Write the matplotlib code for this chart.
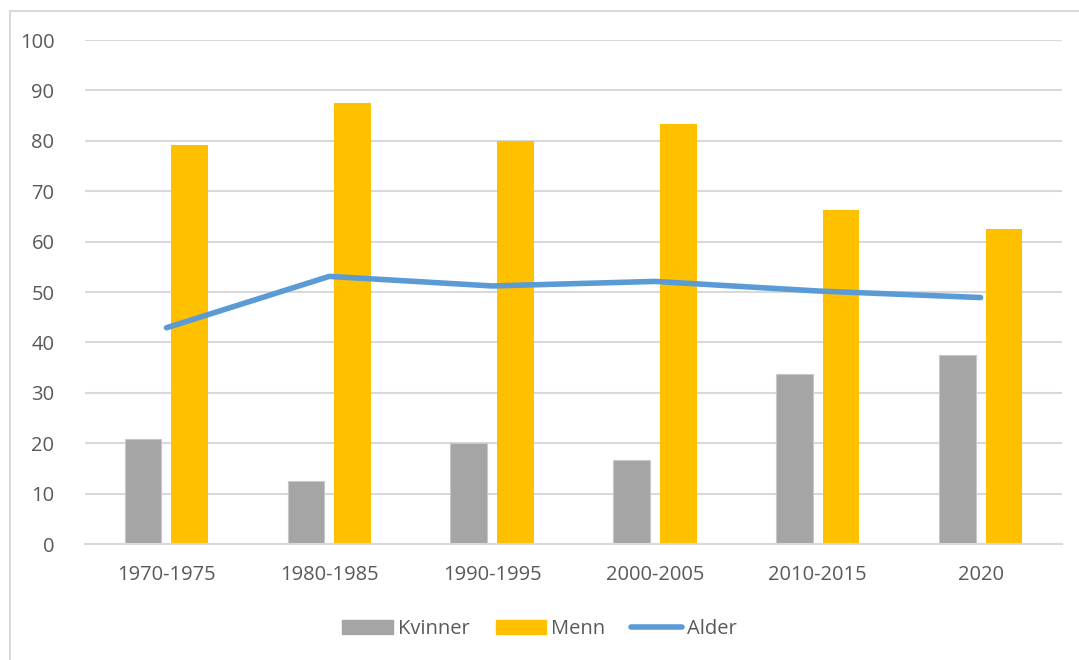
import matplotlib
matplotlib.use("Agg")
import matplotlib.pyplot as plt
import numpy as np
from matplotlib.lines import Line2D

categories = ["1970-1975", "1980-1985", "1990-1995", "2000-2005", "2010-2015", "2020"]
kvinner = [20.8, 12.5, 20.0, 16.7, 33.8, 37.5]
menn = [79.2, 87.5, 80.0, 83.3, 66.2, 62.5]
alder = [42.9, 53.1, 51.2, 52.1, 50.2, 48.9]

plt.rcParams['font.family'] = ['Open Sans', 'DejaVu Sans']
txt = '#595959'
fig = plt.figure(figsize=(10.79, 6.6), dpi=100)
ax = fig.add_axes([85/1079, 1-544/660, (1062-85)/1079, (544-40)/660])

x = np.arange(len(categories))
bw = 0.225
off = 0.143
ax.bar(x - off, kvinner, width=bw, color='#A5A5A5', edgecolor='#C8C8C8', linewidth=0.8, label='Kvinner', zorder=2)
ax.bar(x + off, menn, width=bw, color='#FFC000', label='Menn', zorder=2)
ax.plot(x, alder, color='#5B9BD5', linewidth=4, solid_capstyle='round', label='Alder', zorder=3)

ax.set_xlim(-0.5, len(categories) - 0.5)
ax.set_ylim(0, 100)
ax.set_yticks(range(0, 101, 10))
ax.set_xticks(x)
ax.set_xticklabels(categories)
ax.yaxis.grid(True, color='#D9D9D9', linewidth=1.5, zorder=0)
ax.set_axisbelow(True)
for s in ['top', 'right', 'left']:
    ax.spines[s].set_visible(False)
ax.spines['bottom'].set_color('#D9D9D9')
ax.spines['bottom'].set_linewidth(1.5)
ax.tick_params(axis='both', length=0, labelsize=14.5, colors=txt)
ax.tick_params(axis='y', pad=22)
ax.tick_params(axis='x', pad=15)

handles = [plt.Rectangle((0, 0), 1, 1, color='#A5A5A5'),
           plt.Rectangle((0, 0), 1, 1, color='#FFC000'),
           Line2D([0], [0], color='#5B9BD5', linewidth=4, solid_capstyle='round')]
leg = fig.legend(handles, ['Kvinner', 'Menn', 'Alder'], loc='center', bbox_to_anchor=(0.5, 1-629/660),
                 ncol=3, frameon=False, fontsize=14.5, handlelength=2.5, handleheight=0.7,
                 handletextpad=0.25, columnspacing=1.3)
for t in leg.get_texts():
    t.set_color(txt)

fig.add_artist(Line2D([10/1079, 10/1079], [0, 1-11/660], color='#D9D9D9', linewidth=1.5, transform=fig.transFigure))
fig.add_artist(Line2D([10/1079, 1], [1-11/660, 1-11/660], color='#D9D9D9', linewidth=1.5, transform=fig.transFigure))

fig.savefig('out.png', dpi=100)
